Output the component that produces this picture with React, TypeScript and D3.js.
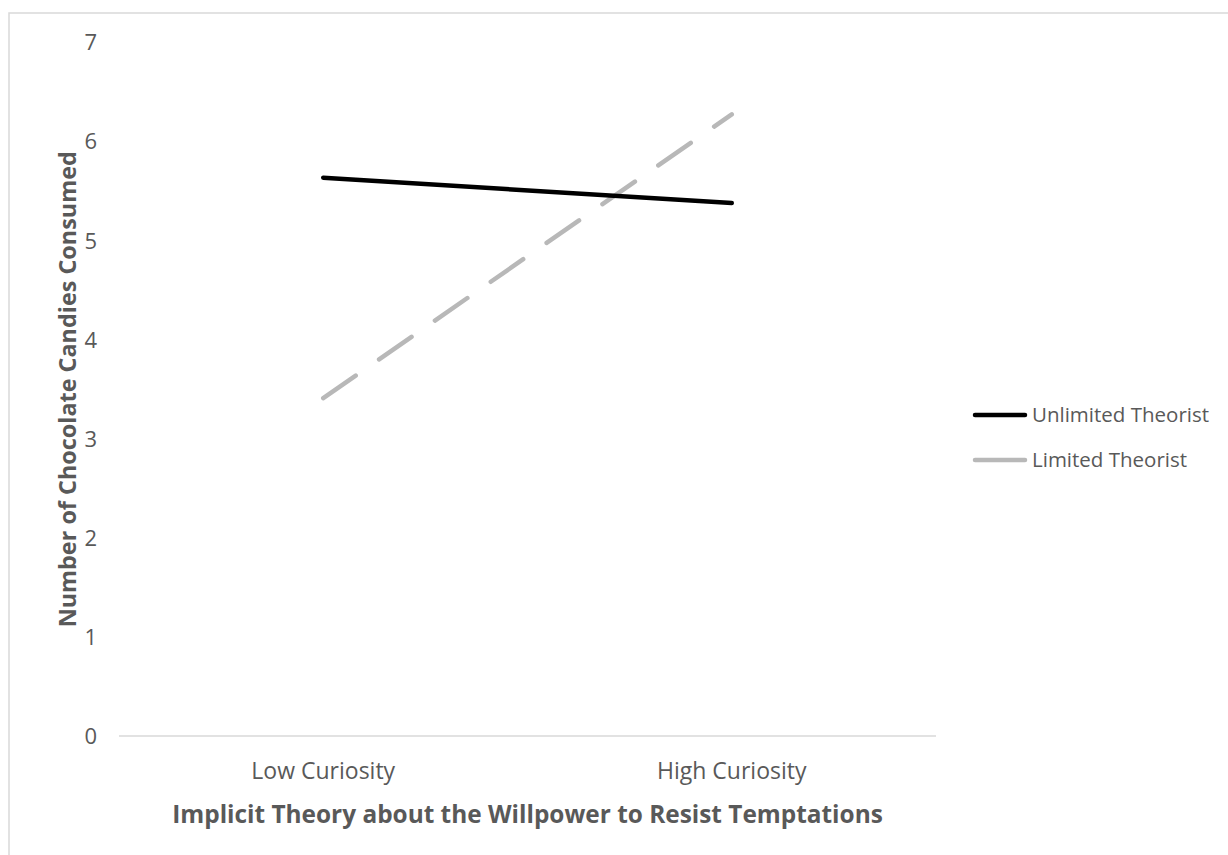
import React, { useEffect, useRef } from 'react';
import * as d3 from 'd3';

// Data
const categories = ['Low Curiosity', 'High Curiosity'];
const unlimitedValues = [5.635, 5.38];
const limitedValues = [3.41, 6.275];
const seriesNames = ['Unlimited Theorist', 'Limited Theorist'];
const yTicks = [0, 1, 2, 3, 4, 5, 6, 7];

const xTitle = 'Implicit Theory about the Willpower to Resist Temptations';
const yTitle = 'Number of Chocolate Candies Consumed';

const App = () => {
  const svgRef = useRef<SVGSVGElement>(null);

  useEffect(() => {
    const width = 1228;
    const height = 855;
    const plot = { left: 119, right: 936, top: 42.5, bottom: 736 };
    const textColor = '#595959';
    const font = '"Open Sans", sans-serif';

    d3.select(svgRef.current).selectAll('*').remove();

    const svg = d3
      .select(svgRef.current)
      .attr('width', width)
      .attr('height', height);

    svg.append('rect').attr('width', width).attr('height', height).attr('fill', '#fff');

    // Chart frame (runs off the right and bottom edges)
    svg
      .append('rect')
      .attr('x', 9)
      .attr('y', 13)
      .attr('width', width + 20)
      .attr('height', height + 20)
      .attr('fill', 'none')
      .attr('stroke', '#d9d9d9')
      .attr('stroke-width', 1.5);

    // Scales
    const x = d3
      .scalePoint<string>()
      .domain(categories)
      .range([plot.left, plot.right])
      .padding(0.5);

    const y = d3.scaleLinear().domain([0, 7]).range([plot.bottom, plot.top]);

    // Y tick labels (no axis line)
    svg
      .append('g')
      .selectAll('text')
      .data(yTicks)
      .enter()
      .append('text')
      .attr('x', 97)
      .attr('y', (d) => y(d))
      .attr('dy', '0.36em')
      .attr('text-anchor', 'end')
      .attr('font-family', font)
      .attr('font-size', 22)
      .attr('fill', textColor)
      .text((d) => d);

    // X axis line
    svg
      .append('line')
      .attr('x1', plot.left)
      .attr('x2', plot.right)
      .attr('y1', y(0))
      .attr('y2', y(0))
      .attr('stroke', '#d9d9d9')
      .attr('stroke-width', 1.5);

    // X category labels
    svg
      .append('g')
      .selectAll('text')
      .data(categories)
      .enter()
      .append('text')
      .attr('x', (d) => x(d) as number)
      .attr('y', 779)
      .attr('text-anchor', 'middle')
      .attr('font-family', font)
      .attr('font-size', 23)
      .attr('fill', textColor)
      .text((d) => d);

    // Axis titles
    svg
      .append('text')
      .attr('x', (plot.left + plot.right) / 2)
      .attr('y', 823)
      .attr('text-anchor', 'middle')
      .attr('font-family', font)
      .attr('font-weight', 'bold')
      .attr('font-size', 24.4)
      .attr('fill', textColor)
      .text(xTitle);

    svg
      .append('text')
      .attr('transform', `translate(76,${(plot.top + plot.bottom) / 2}) rotate(-90)`)
      .attr('text-anchor', 'middle')
      .attr('font-family', font)
      .attr('font-weight', 'bold')
      .attr('font-size', 23.4)
      .attr('fill', textColor)
      .text(yTitle);

    const line = d3
      .line<number>()
      .x((_, i) => x(categories[i]) as number)
      .y((d) => y(d));

    // Limited theorist (dashed gray)
    svg
      .append('path')
      .datum(limitedValues)
      .attr('fill', 'none')
      .attr('stroke', '#b8b8b8')
      .attr('stroke-width', 4.5)
      .attr('stroke-linecap', 'round')
      .attr('stroke-dasharray', '39.5 28.5')
      .attr('d', line);

    // Unlimited theorist (solid black)
    svg
      .append('path')
      .datum(unlimitedValues)
      .attr('fill', 'none')
      .attr('stroke', '#000')
      .attr('stroke-width', 4.5)
      .attr('stroke-linecap', 'round')
      .attr('d', line);

    // Legend
    const legendColors = ['#000', '#b8b8b8'];
    const legend = svg
      .append('g')
      .selectAll('g')
      .data(seriesNames)
      .enter()
      .append('g')
      .attr('transform', (_, i) => `translate(0,${415 + i * 45})`);

    legend
      .append('line')
      .attr('x1', 975)
      .attr('x2', 1025)
      .attr('stroke', (_, i) => legendColors[i])
      .attr('stroke-width', 4.5)
      .attr('stroke-linecap', 'round');

    legend
      .append('text')
      .attr('x', 1032)
      .attr('dy', '0.36em')
      .attr('font-family', font)
      .attr('font-size', 20.5)
      .attr('fill', textColor)
      .text((d) => d);
  }, []);

  return (
    <svg
      ref={svgRef}
      style={{ position: 'absolute', left: 0, top: 0, display: 'block' }}
    ></svg>
  );
};

export default App;
